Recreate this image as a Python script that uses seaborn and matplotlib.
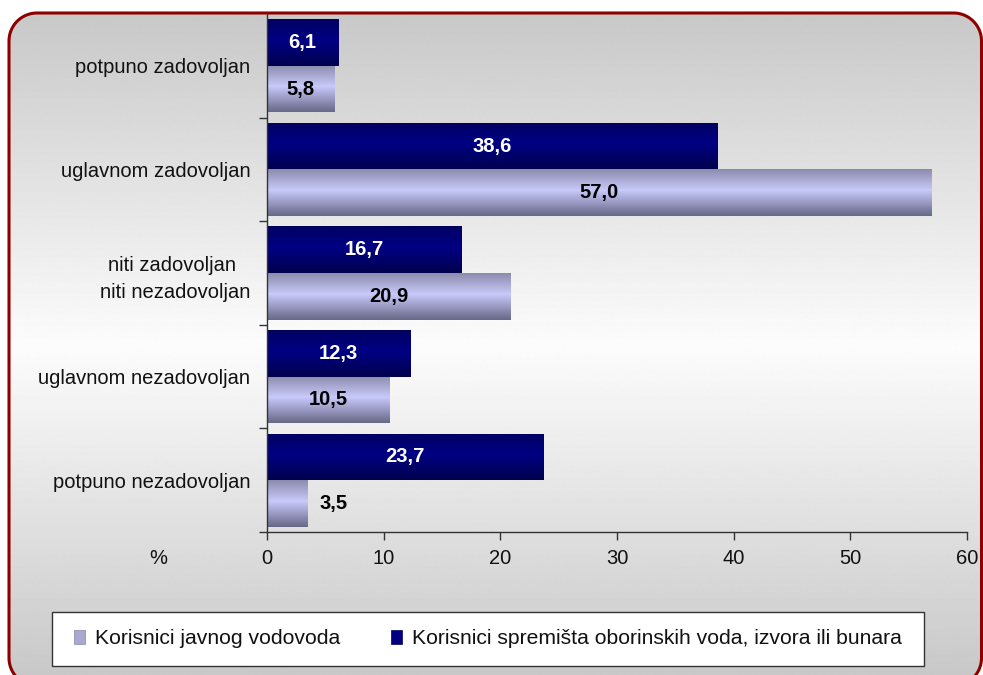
import numpy as np
import pandas as pd
import matplotlib
matplotlib.use("Agg")
import matplotlib.pyplot as plt
import seaborn as sns
from matplotlib.patches import Polygon, Patch, Rectangle
from matplotlib.ticker import FixedLocator

# ---------------- data ----------------
categories = ["potpuno zadovoljan", "uglavnom zadovoljan",
              "niti zadovoljan \nniti nezadovoljan",
              "uglavnom nezadovoljan", "potpuno nezadovoljan"]
series_public = "Korisnici javnog vodovoda"
series_other = "Korisnici spremišta oborinskih voda, izvora ili bunara"
values_public = [5.8, 57.0, 20.9, 10.5, 3.5]
values_other = [6.1, 38.6, 16.7, 12.3, 23.7]
x_ticks = [0, 10, 20, 30, 40, 50, 60]

df = pd.DataFrame({
    "category": categories * 2,
    "series": [series_other] * len(categories) + [series_public] * len(categories),
    "value": values_other + values_public,
})

sns.set_theme(style="white")
plt.rcParams["font.family"] = ["Liberation Sans", "DejaVu Sans"]

W, H = 983, 675
fig = plt.figure(figsize=(W / 100, H / 100), dpi=100)
fig.patch.set_facecolor("white")

LBL = 14.5

# ---------------- background frame ----------------
bg = fig.add_axes([0, 0, 1, 1], zorder=-10)
bg.axis("off")


def rounded_rect(x0, y0, x1, y1, r, n=24):
    pts = []
    corners = [((x1 - r, y0 + r), -90, 0),
               ((x1 - r, y1 - r), 0, 90),
               ((x0 + r, y1 - r), 90, 180),
               ((x0 + r, y0 + r), 180, 270)]
    for (cx, cy), a0, a1 in corners:
        a = np.radians(np.linspace(a0, a1, n))
        pts.extend(zip(cx + r * np.cos(a), cy + r * np.sin(a)))
    return np.array(pts)


yy = np.arange(0, H + 1)
lev = 252 - np.abs(yy - 345) * 0.157
lev = np.clip(lev, 190, 255) / 255.0
grad = np.repeat(lev[:, None], 2, axis=1)
pts = rounded_rect(9, 13, 981.5, 686, 28)
frame = Polygon(pts, closed=True, facecolor="none", edgecolor="none")
bg.add_patch(frame)
im = bg.imshow(grad, cmap="gray", vmin=0, vmax=1, extent=[0, W, H, 0],
               aspect="auto", interpolation="bilinear")
im.set_clip_path(frame)
border = Polygon(pts, closed=True, facecolor="none", edgecolor="#8e0000",
                 linewidth=2.2, joinstyle="round")
bg.add_patch(border)
bg.add_patch(Rectangle((52, 612), 872, 54, facecolor="white", edgecolor="#333333",
                       linewidth=1.0))
bg.set_xlim(0, W)
bg.set_ylim(H, 0)

# ---------------- main axes ----------------
ax = fig.add_axes([267 / W, 1 - 532 / H, 700 / W, 518 / H])
ax.set_facecolor("none")
sns.barplot(data=df, y="category", x="value", hue="series",
            hue_order=[series_other, series_public],
            palette=["#000080", "#b0b0dd"], orient="h", width=0.9,
            legend=False, ax=ax, saturation=1, edgecolor="none", linewidth=0)


def grad_fill(patch, top, mid, bot, zorder):
    x0, y0 = patch.get_x(), patch.get_y()
    w, h = patch.get_width(), patch.get_height()
    n = 64
    t = np.linspace(0, 1, n)
    top, mid, bot = (np.array(matplotlib.colors.to_rgb(c)) for c in (top, mid, bot))
    cols = np.zeros((n, 1, 3))
    for i, tt in enumerate(t):
        if tt < 0.45:
            f = tt / 0.45
            cols[i, 0] = top + (mid - top) * f
        else:
            f = (tt - 0.45) / 0.55
            cols[i, 0] = mid + (bot - mid) * f
    img = ax.imshow(cols, extent=[x0, x0 + w, y0 + h, y0], aspect="auto",
                    interpolation="bilinear", zorder=zorder)
    img.set_clip_path(patch)
    patch.set_facecolor("none")


dark_bars = list(ax.containers[0])
light_bars = list(ax.containers[1])
for p in dark_bars:
    grad_fill(p, "#000062", "#000084", "#00004e", 2)
for p in light_bars:
    grad_fill(p, "#8c8cae", "#c9c9fb", "#686888", 2)


def fmt(v):
    return f"{v:.1f}".replace(".", ",")


VAL = 14.5
for p, v in zip(dark_bars, values_other):
    cy = p.get_y() + p.get_height() / 2
    ax.text(v / 2, cy, fmt(v), ha="center", va="center", color="white",
            fontsize=VAL, fontweight="bold", zorder=5)
for p, v in zip(light_bars, values_public):
    cy = p.get_y() + p.get_height() / 2
    if v < 5:
        ax.text(v + 1.0, cy, fmt(v), ha="left", va="center", color="black",
                fontsize=VAL, fontweight="bold", zorder=5)
    else:
        ax.text(v / 2, cy, fmt(v), ha="center", va="center", color="black",
                fontsize=VAL, fontweight="bold", zorder=5)

ax.set_xlim(0, 60)
ax.set_ylim(4.5, -0.5)
ax.set_xticks(x_ticks)
ax.set_xticklabels([str(t) for t in x_ticks])
ax.set_xlabel("")
ax.set_ylabel("")
ax.yaxis.set_minor_locator(FixedLocator([0.5, 1.5, 2.5, 3.5, 4.5]))
ax.tick_params(axis="y", which="major", length=0, pad=12, labelsize=LBL, labelcolor="#111111")
ax.tick_params(axis="y", which="minor", length=6, width=1, color="#333333", direction="out", left=True)
ax.tick_params(axis="x", which="major", length=6, width=1, color="#333333", direction="out",
               bottom=True, pad=6, labelsize=LBL, labelcolor="#111111")
for lbl in ax.get_yticklabels():
    lbl.set_multialignment("center")
    lbl.set_linespacing(1.5)
for s in ["top", "right"]:
    ax.spines[s].set_visible(False)
for s in ["left", "bottom"]:
    ax.spines[s].set_color("#333333")
    ax.spines[s].set_linewidth(1.0)

fig.text(158 / W, 1 - 559 / H, "%", ha="center", va="center", fontsize=LBL, color="#111111")

# ---------------- legend ----------------
handles = [Patch(facecolor="#a8a8d0", edgecolor="#8888aa", linewidth=0.5, label=series_public),
           Patch(facecolor="#000080", edgecolor="#000060", linewidth=0.5, label=series_other)]
leg = fig.legend(handles=handles, loc="center left", ncol=2,
                 bbox_to_anchor=(74 / W, 1 - 639 / H),
                 frameon=False, fontsize=15.2,
                 handlelength=0.5, handleheight=0.6, handletextpad=0.5,
                 columnspacing=2.4, borderpad=0, borderaxespad=0)
for t in leg.get_texts():
    t.set_color("#111111")

fig.savefig("out.png", dpi=100)
